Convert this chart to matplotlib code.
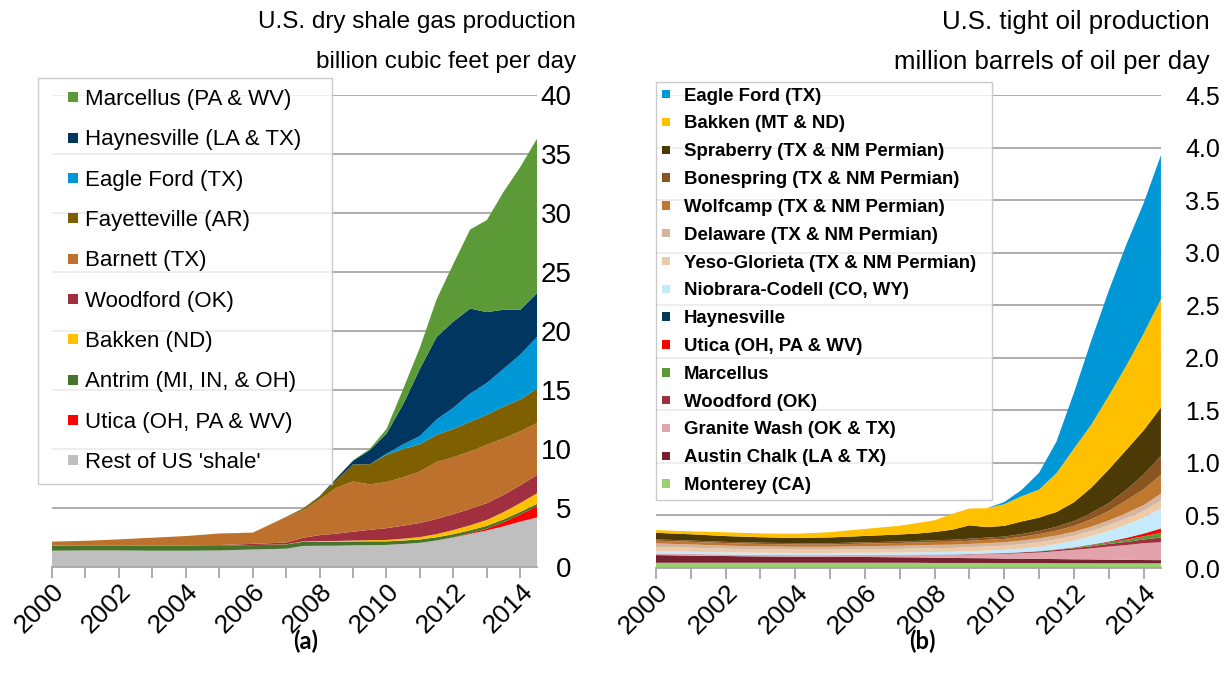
import numpy as np
import matplotlib.pyplot as plt
from matplotlib.patches import Patch, Rectangle
from matplotlib.legend_handler import HandlerPatch

plt.rcParams['font.family'] = ['Liberation Sans', 'DejaVu Sans']

years = [2000, 2001, 2002, 2003, 2004, 2005, 2006, 2007, 2007.5, 2008, 2008.5,
         2009, 2009.5, 2010, 2010.5, 2011, 2011.5, 2012, 2012.5, 2013, 2013.5,
         2014, 2014.5]

# (a) dry shale gas, billion cubic feet per day
gas_rest = [1.38, 1.40, 1.40, 1.38, 1.38, 1.40, 1.48, 1.55, 1.78, 1.80, 1.80, 1.83,
            1.85, 1.87, 1.95, 2.05, 2.25, 2.5, 2.8, 3.1, 3.45, 3.85, 4.2]
gas_utica = [0, 0, 0, 0, 0, 0, 0, 0, 0, 0, 0, 0, 0, 0, 0, 0, 0, 0.02, 0.06, 0.15,
             0.35, 0.6, 0.95]
gas_antrim = [0.42, 0.42, 0.42, 0.42, 0.40, 0.40, 0.38, 0.36, 0.36, 0.35, 0.34, 0.33,
              0.32, 0.30, 0.29, 0.28, 0.27, 0.26, 0.25, 0.24, 0.23, 0.22, 0.20]
gas_bakken = [0, 0, 0, 0, 0, 0, 0, 0.01, 0.03, 0.05, 0.065, 0.08, 0.10, 0.12, 0.16,
              0.20, 0.27, 0.35, 0.42, 0.50, 0.62, 0.75, 0.90]
gas_woodford = [0.02, 0.02, 0.02, 0.03, 0.04, 0.06, 0.10, 0.15, 0.3, 0.5, 0.62, 0.75,
                0.88, 1.0, 1.1, 1.2, 1.28, 1.35, 1.39, 1.42, 1.46, 1.5, 1.55]
gas_barnett = [0.33, 0.38, 0.5, 0.65, 0.8, 0.98, 0.94, 2.13, 2.33, 3.0, 3.88, 4.26,
               3.85, 3.91, 4.1, 4.37, 4.83, 4.82, 4.88, 4.94, 4.79, 4.58, 4.4]
gas_fayetteville = [0, 0, 0, 0, 0, 0, 0.01, 0.05, 0.15, 0.25, 0.65, 1.45, 1.7, 2.3,
                    2.4, 2.3, 2.3, 2.4, 2.5, 2.55, 2.7, 2.7, 2.9]
gas_eagleford = [0, 0, 0, 0, 0, 0, 0, 0, 0, 0, 0, 0, 0, 0.1, 0.4, 0.7, 1.3, 1.8,
                 2.4, 2.7, 3.2, 3.8, 4.4]
gas_haynesville = [0, 0, 0, 0, 0, 0, 0, 0, 0, 0.05, 0.15, 0.3, 1.2, 1.7, 3.4, 5.7,
                   7.0, 7.3, 7.2, 6.0, 5.0, 3.8, 3.7]
gas_marcellus = [0, 0, 0, 0, 0, 0, 0, 0, 0, 0.01, 0.03, 0.05, 0.1, 0.4, 1.3, 1.8,
                 3.2, 4.9, 6.7, 7.8, 10.0, 12.1, 13.1]

gas_series = [gas_rest, gas_utica, gas_antrim, gas_bakken, gas_woodford, gas_barnett,
              gas_fayetteville, gas_eagleford, gas_haynesville, gas_marcellus]
gas_names = ["Rest of US 'shale'", "Utica (OH, PA & WV)", "Antrim (MI, IN, & OH)",
             "Bakken (ND)", "Woodford (OK)", "Barnett (TX)", "Fayetteville (AR)",
             "Eagle Ford (TX)", "Haynesville (LA & TX)", "Marcellus (PA & WV)"]
gas_colors = ['#bfbfbf', '#ff0000', '#48732a', '#ffc000', '#a0303f', '#bd712c',
              '#7f6000', '#0097d6', '#003660', '#5b9a36']

# (b) tight oil, million barrels per day
oil_monterey = [0.05, 0.05, 0.05, 0.05, 0.05, 0.05, 0.05, 0.05, 0.05, 0.048, 0.048,
                0.048, 0.048, 0.047, 0.047, 0.047, 0.046, 0.046, 0.046, 0.045, 0.045,
                0.045, 0.045]
oil_austin = [0.073, 0.068, 0.064, 0.06, 0.057, 0.055, 0.055, 0.052, 0.051, 0.05,
              0.048, 0.046, 0.045, 0.043, 0.042, 0.04, 0.039, 0.037, 0.036, 0.034,
              0.033, 0.031, 0.03]
oil_granite = [0.016, 0.016, 0.015, 0.015, 0.016, 0.018, 0.02, 0.022, 0.025, 0.028,
               0.031, 0.035, 0.04, 0.045, 0.052, 0.06, 0.075, 0.09, 0.105, 0.125,
               0.14, 0.16, 0.17]
oil_woodford = [0, 0, 0, 0, 0, 0, 0, 0, 0, 0, 0, 0.002, 0.003, 0.005, 0.007, 0.01,
                0.012, 0.015, 0.02, 0.025, 0.03, 0.035, 0.045]
oil_marcellus = [0, 0, 0, 0, 0, 0, 0, 0, 0, 0, 0, 0, 0, 0, 0.001, 0.002, 0.003,
                 0.005, 0.01, 0.015, 0.022, 0.03, 0.045]
oil_utica = [0, 0, 0, 0, 0, 0, 0, 0, 0, 0, 0, 0, 0, 0, 0, 0, 0, 0.002, 0.004, 0.006,
             0.015, 0.025, 0.04]
oil_haynesville = [0, 0, 0, 0, 0, 0, 0, 0, 0.001, 0.002, 0.002, 0.002, 0.002, 0.002,
                   0.002, 0.002, 0.002, 0.002, 0.002, 0.002, 0.002, 0.002, 0.002]
oil_niobrara = [0.022, 0.021, 0.02, 0.02, 0.02, 0.02, 0.021, 0.022, 0.023, 0.024,
                0.025, 0.026, 0.028, 0.03, 0.034, 0.04, 0.05, 0.065, 0.08, 0.1,
                0.125, 0.15, 0.19]
oil_yeso = [0.04, 0.038, 0.035, 0.033, 0.032, 0.032, 0.034, 0.036, 0.036, 0.037,
            0.037, 0.038, 0.039, 0.04, 0.042, 0.045, 0.045, 0.045, 0.05, 0.055, 0.06,
            0.065, 0.075]
oil_delaware = [0.033, 0.031, 0.029, 0.028, 0.027, 0.027, 0.028, 0.03, 0.03, 0.031,
                0.031, 0.032, 0.032, 0.033, 0.034, 0.036, 0.037, 0.038, 0.041, 0.045,
                0.05, 0.055, 0.065]
oil_wolfcamp = [0.026, 0.025, 0.024, 0.023, 0.022, 0.022, 0.024, 0.026, 0.027, 0.028,
                0.029, 0.03, 0.031, 0.032, 0.036, 0.04, 0.047, 0.055, 0.07, 0.09,
                0.12, 0.15, 0.18]
oil_bonespring = [0.012, 0.012, 0.012, 0.012, 0.012, 0.012, 0.013, 0.014, 0.015,
                  0.016, 0.018, 0.02, 0.021, 0.022, 0.026, 0.03, 0.037, 0.045, 0.06,
                  0.075, 0.1, 0.14, 0.18]
oil_spraberry = [0.063, 0.06, 0.055, 0.052, 0.05, 0.055, 0.06, 0.067, 0.07, 0.079,
                 0.095, 0.127, 0.10, 0.102, 0.12, 0.127, 0.14, 0.18, 0.24, 0.32,
                 0.38, 0.42, 0.46]
oil_bakken = [0.025, 0.028, 0.036, 0.036, 0.04, 0.05, 0.067, 0.083, 0.10, 0.111,
              0.15, 0.16, 0.18, 0.206, 0.24, 0.267, 0.37, 0.51, 0.60, 0.70, 0.80,
              0.92, 1.03]
oil_eagleford = [0, 0, 0, 0, 0, 0, 0, 0, 0, 0, 0, 0, 0, 0.02, 0.06, 0.16, 0.3, 0.53,
                 0.8, 1.0, 1.15, 1.24, 1.37]

oil_series = [oil_monterey, oil_austin, oil_granite, oil_woodford, oil_marcellus, oil_utica,
              oil_haynesville, oil_niobrara, oil_yeso, oil_delaware, oil_wolfcamp,
              oil_bonespring, oil_spraberry, oil_bakken, oil_eagleford]
oil_names = ["Monterey (CA)", "Austin Chalk (LA & TX)", "Granite Wash (OK & TX)",
             "Woodford (OK)", "Marcellus", "Utica (OH, PA & WV)", "Haynesville",
             "Niobrara-Codell (CO, WY)", "Yeso-Glorieta (TX & NM Permian)",
             "Delaware (TX & NM Permian)", "Wolfcamp (TX & NM Permian)",
             "Bonespring (TX & NM Permian)", "Spraberry (TX & NM Permian)",
             "Bakken (MT & ND)", "Eagle Ford (TX)"]
oil_colors = ['#99d070', '#772030', '#e2a3ac', '#a0303f', '#5b9a36', '#ff0000',
              '#003a5a', '#c5eafb', '#edcba8', '#d6b5a0', '#c07830', '#8b5522',
              '#4b3a06', '#ffc000', '#0097d6']


def square_handler(size):
    # small square marker at the right end of the handle box
    def make(legend, orig_handle, xdescent, ydescent, width, height, fontsize):
        s = size * fontsize
        return Rectangle((width - s - xdescent, (height - s) / 2 - ydescent), s, s)
    return HandlerPatch(patch_func=make)


def style_axis(ax, ymax, ystep, fmt, pad, ysize):
    ax.set_xlim(2000, 2014.5)
    ax.set_ylim(0, ymax)
    ticks = np.arange(0, ymax + ystep / 2, ystep)
    ax.set_yticks(ticks)
    ax.set_yticklabels([fmt.format(t) for t in ticks])
    ax.yaxis.tick_right()
    ax.tick_params(axis='y', length=0, pad=pad, labelsize=ysize)
    for lab in ax.get_yticklabels():
        lab.set_horizontalalignment('right')
    ax.grid(axis='y', color='#a6a6a6', lw=1.3)
    ax.set_axisbelow(True)
    for s in ['left', 'right', 'top']:
        ax.spines[s].set_visible(False)
    ax.spines['bottom'].set_color('#a6a6a6')
    ax.spines['bottom'].set_linewidth(1.3)
    ax.set_xticks(range(2000, 2015, 2))
    ax.set_xticks(range(2001, 2015, 2), minor=True)
    ax.tick_params(axis='x', which='both', length=8, width=1.3, color='#a6a6a6',
                   labelsize=19, pad=1)
    for lab in ax.get_xticklabels():
        lab.set_rotation(45)
        lab.set_ha('right')
        lab.set_rotation_mode('anchor')


fig = plt.figure(figsize=(12.25, 6.87), dpi=100)

ax1 = fig.add_axes([0.0424, 0.1747, 0.396, 0.687])
ax1.stackplot(years, gas_series, colors=gas_colors, lw=0)
style_axis(ax1, 40, 5, '{:.0f}', 25, 20)
handles = [Patch(facecolor=c) for c in gas_colors[::-1]]
leg1 = fig.legend(handles, gas_names[::-1], loc='upper left', mode='expand',
                  bbox_to_anchor=(38 / 1225, 1 - 484 / 687, 294 / 1225, 406 / 687),
                  fontsize=16, frameon=True, fancybox=False, edgecolor='#bfbfbf',
                  handler_map={Patch: square_handler(0.45)},
                  handlelength=1.3, handletextpad=0.32,
                  labelspacing=0.87, borderpad=0.5, borderaxespad=0)
leg1.get_frame().set_linewidth(1.0)

ax2 = fig.add_axes([0.5355, 0.1732, 0.4122, 0.6885])
ax2.stackplot(years, oil_series, colors=oil_colors, lw=0)
style_axis(ax2, 4.5, 0.5, '{:.1f}', 42.5, 18)
handles = [Patch(facecolor=c) for c in oil_colors[::-1]]
leg2 = fig.legend(handles, oil_names[::-1], loc='upper left', mode='expand',
                  bbox_to_anchor=(656 / 1225, 1 - 500 / 687, 336 / 1225, 418 / 687),
                  prop={'size': 13.4, 'weight': 'bold'},
                  frameon=True, fancybox=False, edgecolor='#bfbfbf',
                  handler_map={Patch: square_handler(0.45)},
                  handlelength=0.45, handletextpad=0.75,
                  labelspacing=0.58, borderpad=0.3, borderaxespad=0)
leg2.get_frame().set_linewidth(1.0)

fig.text(576 / 1225, 1 - 22 / 687, 'U.S. dry shale gas production', ha='right',
         va='center', fontsize=17.5)
fig.text(576 / 1225, 1 - 62 / 687, 'billion cubic feet per day', ha='right',
         va='center', fontsize=17.5)
fig.text(1210 / 1225, 1 - 22 / 687, 'U.S. tight oil production', ha='right',
         va='center', fontsize=18.6)
fig.text(1210 / 1225, 1 - 62 / 687, 'million barrels of oil per day', ha='right',
         va='center', fontsize=18.6)

fig.text(306 / 1225, 1 - 641 / 687, '(a)', ha='center', va='center',
         fontsize=17, fontweight='bold', family=['Lato', 'DejaVu Sans'])
fig.text(922 / 1225, 1 - 641 / 687, '(b)', ha='center', va='center',
         fontsize=17, fontweight='bold', family=['Lato', 'DejaVu Sans'])

fig.savefig('out.png', dpi=100)
